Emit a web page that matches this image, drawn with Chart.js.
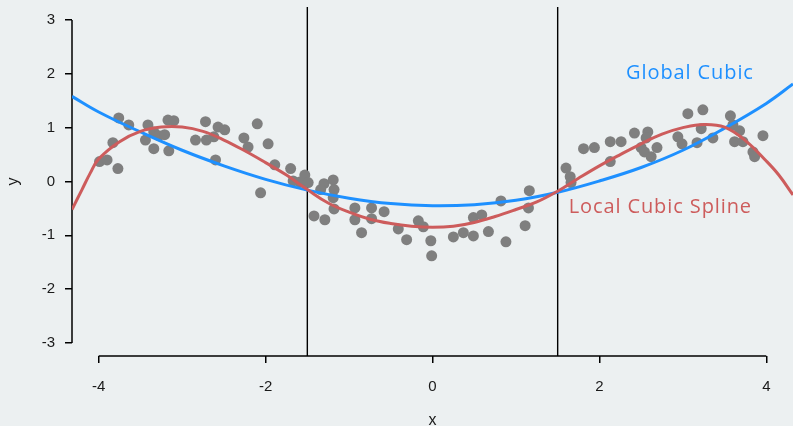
<!DOCTYPE html>
<html>
<head>
<meta charset="utf-8">
<script src="https://cdn.jsdelivr.net/npm/chart.js@4.4.1/dist/chart.umd.min.js"></script>
<style>
  html, body { margin: 0; padding: 0; background: #ECF0F1; }
  #wrap { width: 793px; height: 426px; position: relative; }
</style>
</head>
<body>
<div id="wrap"><canvas id="c" width="793" height="426"></canvas></div>
<script>
// Observed sample
const obsX = [
  -3.99, -3.90, -3.83, -3.77, -3.76, -3.64, -3.44, -3.41, -3.34, -3.34,
  -3.28, -3.21, -3.17, -3.10, -3.16, -2.84, -2.72, -2.71, -2.57, -2.49,
  -2.62, -2.60, -2.26, -2.21, -2.10, -1.97, -1.89, -2.06, -1.70, -1.67,
  -1.59, -1.53, -1.49, -1.30, -1.19, -1.18, -1.34, -1.19, -1.18, -1.42,
  -1.29, -0.93, -0.93, -0.85, -0.73, -0.73, -0.58, -0.41, -0.31, -0.17,
  -0.11, -0.02, -0.01, 0.25, 0.37, 0.49, 0.49, 0.59, 0.67, 0.88,
  0.82, 1.11, 1.15, 1.16, 1.60, 1.65, 1.66, 1.81, 1.94, 2.13,
  2.26, 2.13, 2.42, 2.58, 2.56, 2.50, 2.54, 2.62, 2.69, 2.94,
  2.99, 3.06, 3.24, 3.17, 3.22, 3.36, 3.57, 3.60, 3.68, 3.62,
  3.72, 3.84, 3.86, 3.96
];
const obsY = [
  0.37, 0.40, 0.72, 0.24, 1.18, 1.05, 0.77, 1.05, 0.92, 0.61,
  0.85, 0.87, 1.14, 1.13, 0.57, 0.77, 1.11, 0.77, 1.01, 0.96,
  0.83, 0.40, 0.81, 0.64, 1.07, 0.70, 0.31, -0.21, 0.24, 0.01,
  -0.01, 0.12, -0.02, -0.04, 0.03, -0.15, -0.15, -0.30, -0.51, -0.64,
  -0.71, -0.49, -0.71, -0.95, -0.49, -0.69, -0.56, -0.88, -1.08, -0.73,
  -0.84, -1.10, -1.38, -1.03, -0.95, -1.01, -0.67, -0.62, -0.93, -1.12,
  -0.36, -0.82, -0.49, -0.17, 0.25, 0.09, -0.02, 0.61, 0.63, 0.74,
  0.74, 0.37, 0.90, 0.92, 0.81, 0.63, 0.55, 0.46, 0.63, 0.83,
  0.70, 1.26, 1.33, 0.72, 0.98, 0.81, 1.22, 1.05, 0.94, 0.74,
  0.74, 0.55, 0.46, 0.85
];

// Global cubic fit
const cubicX = [-4.32, -4, -3.5, -3, -2.5, -2, -1.5, -1, -0.5, 0, 0.5, 1, 1.5, 2, 2.5, 3, 3.5, 4, 4.32];
const cubicY = [1.58, 1.29, 0.92, 0.58, 0.29, 0.04, -0.16, -0.31, -0.41, -0.45, -0.43, -0.35, -0.20, 0.01, 0.26, 0.58, 0.99, 1.45, 1.81];

// Local cubic spline (knots at the vertical lines)
const splineX = [-4.32, -4.2, -4.1, -4.0, -3.75, -3.5, -3.25, -3.0, -2.75, -2.5,
  -2.25, -2.0, -1.75, -1.5, -1.25, -1.0, -0.75, -0.5, -0.25, 0,
  0.25, 0.5, 0.75, 1.0, 1.25, 1.5, 1.75, 2.0, 2.25, 2.5,
  2.75, 3.0, 3.25, 3.5, 3.75, 4.0, 4.15, 4.32];
const splineY = [-0.52, -0.15, 0.16, 0.42, 0.74, 0.93, 1.01, 1.01, 0.93, 0.77,
  0.57, 0.35, 0.12, -0.15, -0.40, -0.57, -0.70, -0.78, -0.83, -0.85,
  -0.83, -0.76, -0.65, -0.52, -0.38, -0.18, 0.06, 0.29, 0.50, 0.70,
  0.88, 1.00, 1.06, 1.01, 0.76, 0.38, 0.12, -0.25];

const knots = [-1.5, 1.5];
const xTicks = [-4, -2, 0, 2, 4];
const yTicks = [-3, -2, -1, 0, 1, 2, 3];

const BG = '#ECF0F1';
const BLUE = '#1E90FF';
const RED = '#CD5C5C';
const INK = '#1a1a1a';
const tickFont = { family: '"Liberation Sans", Arial, sans-serif', size: 15 };
const titleFont = { family: '"Liberation Sans", Arial, sans-serif', size: 16, lineHeight: 0.7 };
const noteFont = '20px "Open Sans", "Noto Sans", sans-serif';

const toPoints = (xs, ys) => xs.map((x, i) => ({ x: x, y: ys[i] }));

// Canvas background
const background = {
  id: 'background',
  beforeDraw(chart) {
    const ctx = chart.ctx;
    ctx.save();
    ctx.fillStyle = BG;
    ctx.fillRect(0, 0, chart.width, chart.height);
    ctx.restore();
  }
};

// Range-frame axis lines and the knot markers
const frame = {
  id: 'frame',
  beforeDatasetsDraw(chart) {
    const { ctx, chartArea, scales } = chart;
    const xs = scales.x, ys = scales.y;
    ctx.save();
    ctx.strokeStyle = '#000';
    ctx.lineWidth = 1.5;
    ctx.beginPath();
    ctx.moveTo(chartArea.left, ys.getPixelForValue(yTicks[0]));
    ctx.lineTo(chartArea.left, ys.getPixelForValue(yTicks[yTicks.length - 1]));
    ctx.moveTo(xs.getPixelForValue(xTicks[0]), chartArea.bottom);
    ctx.lineTo(xs.getPixelForValue(xTicks[xTicks.length - 1]), chartArea.bottom);
    ctx.stroke();
    ctx.lineWidth = 1.4;
    ctx.beginPath();
    knots.forEach(k => {
      const px = xs.getPixelForValue(k);
      ctx.moveTo(px, chartArea.top);
      ctx.lineTo(px, chartArea.bottom);
    });
    ctx.stroke();
    ctx.restore();
  }
};

// Curve names placed beside the curves
const notes = {
  id: 'notes',
  afterDatasetsDraw(chart) {
    const { ctx, scales } = chart;
    ctx.save();
    ctx.font = noteFont;
    ctx.letterSpacing = '0.9px';
    ctx.textAlign = 'center';
    ctx.textBaseline = 'alphabetic';
    ctx.fillStyle = BLUE;
    ctx.fillText('Global Cubic', scales.x.getPixelForValue(3.085), scales.y.getPixelForValue(1.90));
    ctx.fillStyle = RED;
    ctx.fillText('Local Cubic Spline', scales.x.getPixelForValue(2.73), scales.y.getPixelForValue(-0.586));
    ctx.restore();
  }
};

new Chart(document.getElementById('c'), {
  type: 'scatter',
  data: {
    datasets: [
      {
        label: 'Local Cubic Spline',
        data: toPoints(splineX, splineY),
        showLine: true,
        borderColor: RED,
        borderWidth: 3,
        pointRadius: 0,
        tension: 0.4,
        order: 1
      },
      {
        label: 'Global Cubic',
        data: toPoints(cubicX, cubicY),
        showLine: true,
        borderColor: BLUE,
        borderWidth: 3,
        pointRadius: 0,
        tension: 0.4,
        order: 2
      },
      {
        label: 'obs',
        data: toPoints(obsX, obsY),
        showLine: false,
        pointRadius: 5.5,
        pointBackgroundColor: '#7F7F7F',
        pointBorderWidth: 0,
        order: 3
      }
    ]
  },
  options: {
    responsive: false,
    animation: false,
    devicePixelRatio: 1,
    layout: { autoPadding: false, padding: { top: 7, right: 0, bottom: 0, left: 0 } },
    plugins: { legend: { display: false }, tooltip: { enabled: false } },
    scales: {
      x: {
        type: 'linear',
        min: -4.32,
        max: 4.32,
        afterBuildTicks: s => { s.ticks = xTicks.map(v => ({ value: v })); },
        afterFit: s => { s.height = 70; s.paddingLeft = 0; s.paddingRight = 0; },
        grid: { drawOnChartArea: false, drawTicks: true, tickLength: 7, color: '#000', lineWidth: 1.5 },
        border: { display: false },
        ticks: { font: tickFont, color: INK, padding: 15, maxRotation: 0 },
        title: { display: true, text: 'x', font: titleFont, color: INK, padding: { top: 0, bottom: 0 } }
      },
      y: {
        type: 'linear',
        min: -3.24,
        max: 3.24,
        afterBuildTicks: s => { s.ticks = yTicks.map(v => ({ value: v })); },
        afterFit: s => { s.width = 72; s.paddingTop = 0; s.paddingBottom = 0; },
        grid: { drawOnChartArea: false, drawTicks: true, tickLength: 7, color: '#000', lineWidth: 1.5 },
        border: { display: false },
        ticks: { font: tickFont, color: INK, padding: 10 },
        title: { display: true, text: 'y', font: titleFont, color: INK, padding: { top: 8, bottom: 0 } }
      }
    }
  },
  plugins: [background, frame, notes]
});
</script>
</body>
</html>
